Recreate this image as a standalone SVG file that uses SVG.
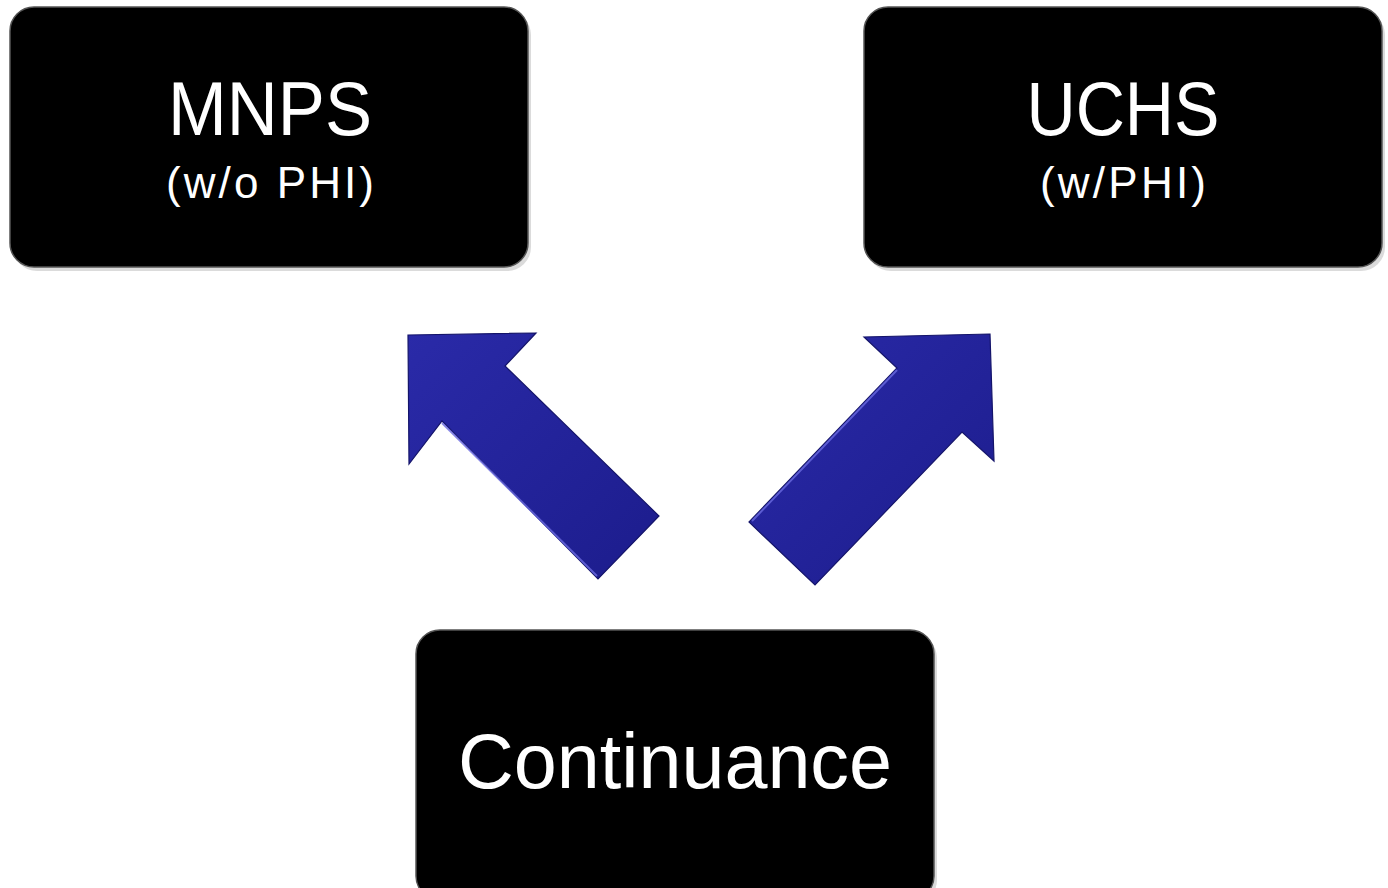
<svg xmlns="http://www.w3.org/2000/svg" width="1388" height="888" viewBox="0 0 1388 888">
<defs>
<style>
.box{fill:#000;stroke:#555;stroke-width:1.5}
.shadow{fill:#999;opacity:0.35}
.gloss{fill:none;stroke:url(#glossG);stroke-width:3;stroke-linecap:round}
.t{font-family:"Liberation Sans","DejaVu Sans",sans-serif;fill:#fff;text-anchor:middle}
.arrow{fill:url(#arrG);stroke:#14146a;stroke-width:1.2;stroke-linejoin:miter}
.hl{fill:none;stroke:#6a6ae0;stroke-width:2;opacity:0.8}
</style>
<linearGradient id="glossG" x1="0" y1="0" x2="1" y2="0">
<stop offset="0" stop-color="#888" stop-opacity="0"/>
<stop offset="0.1" stop-color="#888"/>
<stop offset="0.9" stop-color="#888"/>
<stop offset="1" stop-color="#888" stop-opacity="0"/>
</linearGradient>
<linearGradient id="arrG" x1="0" y1="0" x2="1" y2="1">
<stop offset="0" stop-color="#2a2aa8"/>
<stop offset="1" stop-color="#1c1c8c"/>
</linearGradient>
</defs>
<rect width="1388" height="888" fill="#fff"/>

<g id="node-mnps">
<rect class="shadow" x="13" y="11" width="518" height="260" rx="24"/>
<rect class="box" x="10" y="7" width="518" height="260" rx="24"/>
<path class="gloss" d="M34 13 H504"/>
<text class="t" x="270" y="135" font-size="76" textLength="204" lengthAdjust="spacingAndGlyphs">MNPS</text>
<text class="t" x="270" y="198" font-size="44" textLength="208" lengthAdjust="spacing">(w/o PHI)</text>
</g>

<g id="node-uchs">
<rect class="shadow" x="867" y="11" width="518" height="260" rx="24"/>
<rect class="box" x="864" y="7" width="518" height="260" rx="24"/>
<path class="gloss" d="M888 13 H1358"/>
<text class="t" x="1123" y="135" font-size="76" textLength="193" lengthAdjust="spacingAndGlyphs">UCHS</text>
<text class="t" x="1123" y="198" font-size="44" textLength="166" lengthAdjust="spacing">(w/PHI)</text>
</g>

<g id="node-continuance">
<rect class="shadow" x="419" y="634" width="518" height="270" rx="24"/>
<rect class="box" x="416" y="630" width="518" height="270" rx="24"/>
<path class="gloss" d="M440 636 H910"/>
<text class="t" x="675" y="788" font-size="78" textLength="434" lengthAdjust="spacingAndGlyphs">Continuance</text>
</g>

<g id="connectors">
<polygon class="arrow" points="408,335 536,333 505,366 659,516 598,579 442,421 409,464"/>
<path class="hl" d="M442,423 L597,576"/>
<polygon class="arrow" points="990,334 864,337 897,368 749,522 815,585 962,432 994,461"/>
<path class="hl" d="M897,370 L752,521"/>
</g>
</svg>
